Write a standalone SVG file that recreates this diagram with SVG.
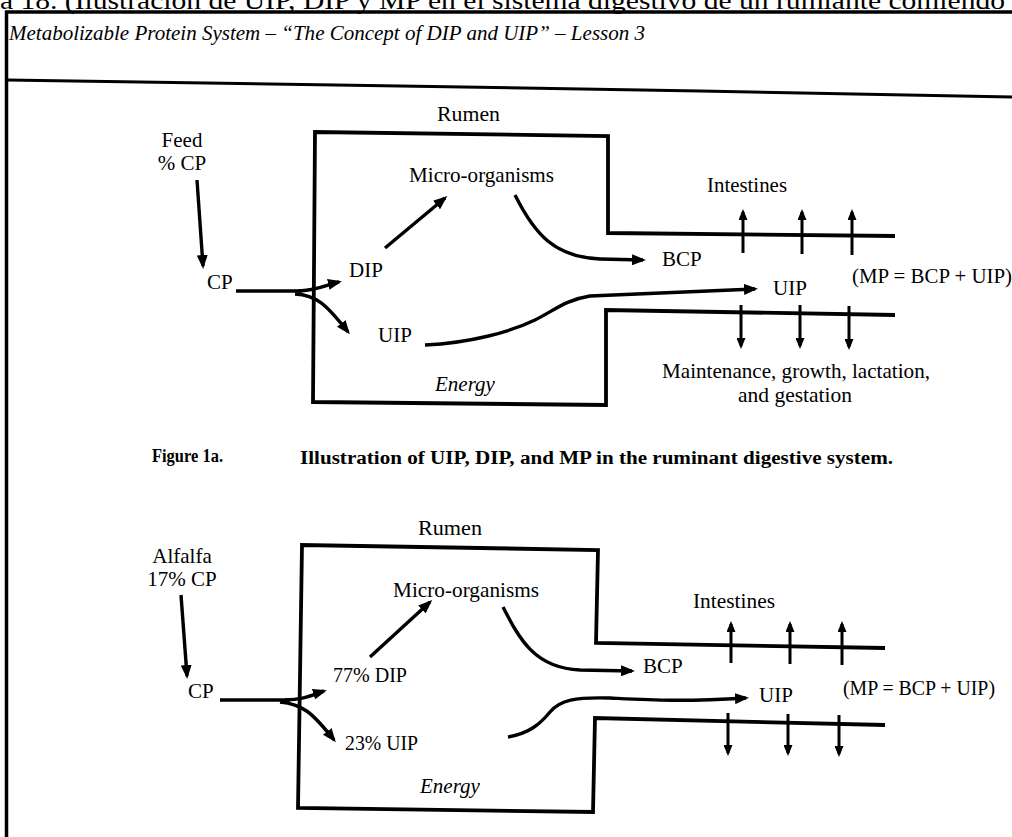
<svg xmlns="http://www.w3.org/2000/svg" width="1012" height="837" viewBox="0 0 1012 837">
<defs>
<style>
.lbl{font-family:"Liberation Serif","Times New Roman",serif;font-size:21px;fill:#000}
.it{font-style:italic}
.cap{font-family:"Liberation Serif","Times New Roman",serif;font-size:18px;font-weight:bold;fill:#000}
.hdr{font-family:"Liberation Serif","Times New Roman",serif;font-size:20px;font-style:italic;fill:#000}
.wall{fill:none;stroke:#000;stroke-width:3.8;stroke-linejoin:miter}
.frame{fill:none;stroke:#000;stroke-width:3.5}
.con{fill:none;stroke:#000;stroke-width:3.4;stroke-linecap:butt}
.thin{fill:none;stroke:#000;stroke-width:3}
.ar{marker-end:url(#ah)}
.sa{marker-end:url(#sh)}
</style>
<marker id="ah" markerUnits="userSpaceOnUse" viewBox="0 0 14 11" markerWidth="14" markerHeight="11" refX="11" refY="5.5" orient="auto">
<path d="M0,0 L14,5.5 L0,11 Z" fill="#000"/>
</marker>
<marker id="sh" markerUnits="userSpaceOnUse" viewBox="0 0 11 9" markerWidth="11" markerHeight="9" refX="8" refY="4.5" orient="auto">
<path d="M0,0 L11,4.5 L0,9 Z" fill="#000"/>
</marker>
</defs>
<rect width="1012" height="837" fill="#fff"/>

<g id="page">
<text x="0" y="9" font-family="'Liberation Serif','Times New Roman',serif" font-size="25" textLength="1005" lengthAdjust="spacingAndGlyphs">a 18.  (Ilustración de UIP, DIP y MP en el sistema digestivo de un rumiante comiendo</text>
<path class="frame" d="M1012,12 L6.5,12 L6.5,837"/>
<polyline class="thin" points="7,80 400,86 700,91 1012,97"/>
<text class="hdr" x="9" y="40" textLength="636" lengthAdjust="spacingAndGlyphs">Metabolizable Protein System – “The Concept of DIP and UIP”  – Lesson 3</text>
</g>

<g id="rumen-top">
<path class="wall" d="M895,236 L608,233 L608,136 L315,132 L313,402 L606,405 L606,310 L895,315"/>
</g>
<g id="rumen-bottom">
<path class="wall" d="M885,648 L596,643 L598,550 L302,545 L298,808 L593,812 L595,718 L885,725"/>
</g>

<g id="labels-top">
<g id="t-rumen"><text class="lbl" x="437" y="121" textLength="63" lengthAdjust="spacingAndGlyphs">Rumen</text></g>
<g id="t-feed"><text class="lbl" x="182" y="147" text-anchor="middle">Feed</text><text class="lbl" x="182" y="170" text-anchor="middle">% CP</text></g>
<g id="t-cp"><text class="lbl" x="207" y="289">CP</text></g>
<g id="t-dip"><text class="lbl" x="349" y="277">DIP</text></g>
<g id="t-micro"><text class="lbl" x="409" y="182" textLength="145" lengthAdjust="spacingAndGlyphs">Micro-organisms</text></g>
<g id="t-intestines"><text class="lbl" x="707" y="192" textLength="80" lengthAdjust="spacingAndGlyphs">Intestines</text></g>
<g id="t-bcp"><text class="lbl" x="662" y="266">BCP</text></g>
<g id="t-uip2"><text class="lbl" x="773" y="295">UIP</text></g>
<g id="t-mp"><text class="lbl" x="852" y="283" textLength="160" lengthAdjust="spacingAndGlyphs">(MP = BCP + UIP)</text></g>
<g id="t-uip1"><text class="lbl" x="378" y="342">UIP</text></g>
<g id="t-energy"><text class="lbl it" x="435" y="391">Energy</text></g>
<g id="t-maint"><text class="lbl" x="662" y="378" textLength="268" lengthAdjust="spacingAndGlyphs">Maintenance, growth, lactation,</text><text class="lbl" x="738" y="402" textLength="114" lengthAdjust="spacingAndGlyphs">and gestation</text></g>
</g>

<g id="caption">
<text class="cap" x="152" y="462" textLength="71" lengthAdjust="spacingAndGlyphs">Figure 1a.</text>
<text class="cap" x="300" y="464" textLength="593" lengthAdjust="spacingAndGlyphs">Illustration of UIP, DIP, and MP in the ruminant digestive system.</text>
</g>

<g id="labels-bottom">
<g id="b-rumen"><text class="lbl" x="418" y="535" textLength="64" lengthAdjust="spacingAndGlyphs">Rumen</text></g>
<g id="b-alfalfa"><text class="lbl" x="182" y="563" text-anchor="middle">Alfalfa</text><text class="lbl" x="182" y="586" text-anchor="middle">17% CP</text></g>
<g id="b-cp"><text class="lbl" x="188" y="698">CP</text></g>
<g id="b-dip"><text class="lbl" x="333" y="682" textLength="74" lengthAdjust="spacingAndGlyphs">77% DIP</text></g>
<g id="b-micro"><text class="lbl" x="393" y="597" textLength="146" lengthAdjust="spacingAndGlyphs">Micro-organisms</text></g>
<g id="b-intestines"><text class="lbl" x="693" y="608" textLength="82" lengthAdjust="spacingAndGlyphs">Intestines</text></g>
<g id="b-bcp"><text class="lbl" x="643" y="673">BCP</text></g>
<g id="b-uip2"><text class="lbl" x="759" y="702">UIP</text></g>
<g id="b-mp"><text class="lbl" x="843" y="695" textLength="152" lengthAdjust="spacingAndGlyphs">(MP = BCP + UIP)</text></g>
<g id="b-uip1"><text class="lbl" x="345" y="750" textLength="73" lengthAdjust="spacingAndGlyphs">23% UIP</text></g>
<g id="b-energy"><text class="lbl it" x="420" y="793">Energy</text></g>
</g>

<g id="connectors">
<path class="con ar" d="M197,180 L203,266"/>
<path class="con" d="M236,291 L302,291"/>
<path class="con ar" d="M298,291 C316,291 326,285 339,282"/>
<path class="con ar" d="M295,294 C316,295 326,304 348,332"/>
<path class="con ar" d="M385,248 L445,198"/>
<path class="con ar" d="M515,195 C535,235 555,257 600,259 L643,260"/>
<path class="con ar" d="M425,345 C470,343 510,332 535,320 C555,310 565,300 590,296 L755,289"/>
<line class="thin sa" x1="743" y1="253" x2="743" y2="212"/>
<line class="thin sa" x1="802" y1="254" x2="802" y2="212"/>
<line class="thin sa" x1="852" y1="255" x2="852" y2="212"/>
<line class="thin sa" x1="741" y1="305" x2="741" y2="346"/>
<line class="thin sa" x1="800" y1="305" x2="800" y2="346"/>
<line class="thin sa" x1="849" y1="306" x2="849" y2="347"/>
<path class="con ar" d="M181,595 L187,676"/>
<path class="con" d="M220,700 L290,700"/>
<path class="con ar" d="M285,700 C305,700 314,694 324,691"/>
<path class="con ar" d="M280,702 C302,704 312,712 334,740"/>
<path class="con ar" d="M370,657 L430,602"/>
<path class="con ar" d="M503,607 C520,640 535,668 580,670 L632,671"/>
<path class="con ar" d="M508,737 C530,733 540,724 550,712 C560,700 575,697 610,698 C650,700 680,702 746,698"/>
<line class="thin sa" x1="731" y1="663" x2="731" y2="624"/>
<line class="thin sa" x1="790" y1="664" x2="790" y2="624"/>
<line class="thin sa" x1="842" y1="665" x2="842" y2="624"/>
<line class="thin sa" x1="728" y1="713" x2="728" y2="753"/>
<line class="thin sa" x1="788" y1="714" x2="788" y2="753"/>
<line class="thin sa" x1="839" y1="715" x2="839" y2="754"/>
</g>
</svg>
